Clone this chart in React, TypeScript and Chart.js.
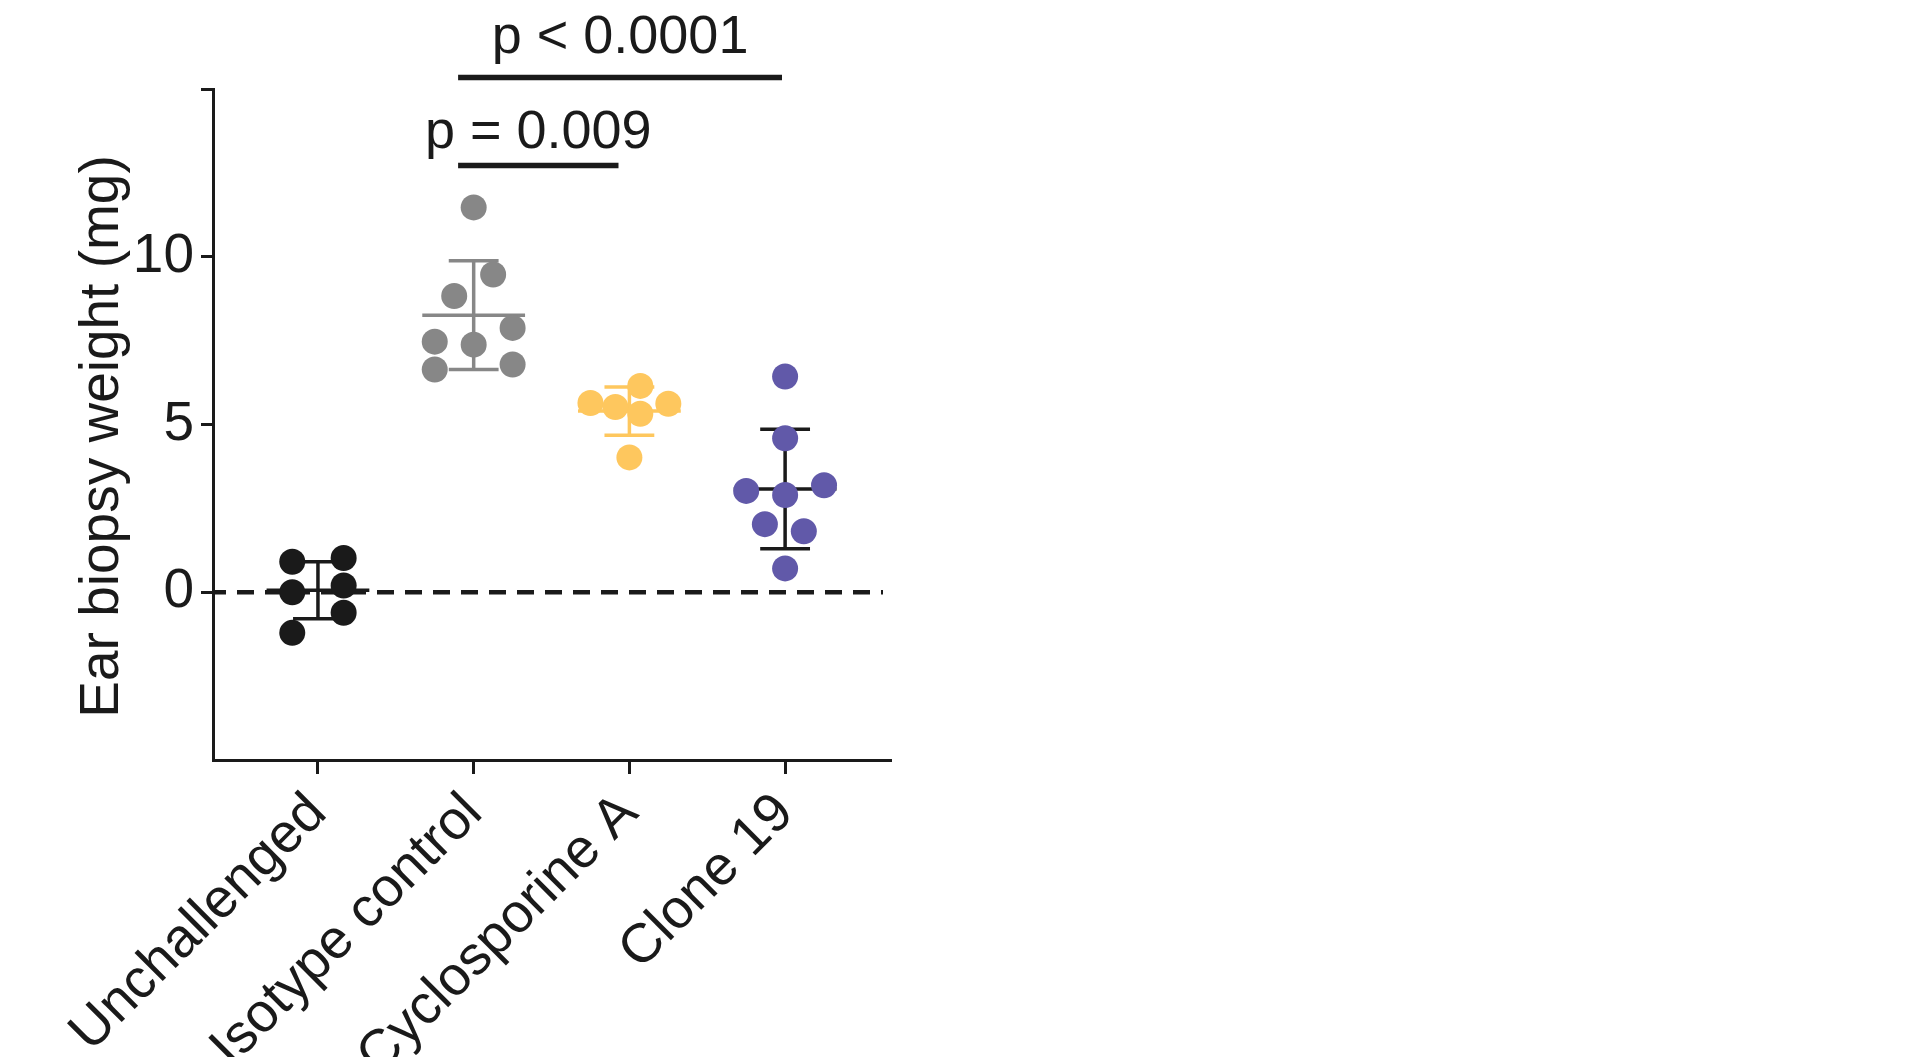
import { useEffect, useRef } from 'react';
import { Chart, registerables } from 'chart.js';

Chart.register(...registerables);

const categories = ['Unchallenged', 'Isotype control', 'Cyclosporine A', 'Clone 19'];

// ear biopsy weight per animal (mg) and horizontal spread inside each column (category units)
const unchallengedValues = [0.91, 1.02, 0.0, 0.2, -0.61, -1.21];
const unchallengedJitter = [-0.165, 0.165, -0.165, 0.165, 0.165, -0.165];
const isotypeValues = [11.47, 9.47, 8.83, 7.88, 7.47, 7.38, 6.64, 6.79];
const isotypeJitter = [0, 0.125, -0.125, 0.25, -0.25, 0, -0.25, 0.25];
const cyclosporineValues = [6.15, 5.64, 5.52, 5.62, 5.32, 4.02];
const cyclosporineJitter = [0.07, -0.25, -0.09, 0.25, 0.07, 0];
const clone19Values = [6.43, 4.59, 3.02, 3.19, 2.9, 2.03, 1.82, 0.71];
const clone19Jitter = [0, 0, -0.25, 0.25, 0, -0.13, 0.12, 0];

// mean and SD bars as drawn
const groupMeans = [0.06, 8.26, 5.4, 3.08];
const groupSDs = [0.85, 1.62, 0.72, 1.78];

const yTicks = [0, 5, 10, 15];
const yTitle = 'Ear biopsy weight (mg)';

// significance brackets
const sigLabels = ['p < 0.0001', 'p = 0.009'];
const sigFrom = [0.9, 0.9];
const sigTo = [2.98, 1.93];
const sigLevel = [15.34, 12.72];
const sigTextLevel = [16.06, 13.25];

const FONT = '"Liberation Sans", Arial, sans-serif';
const INK = '#1a1a1a';
const groupColors = ['#1a1a1a', '#878787', '#fec75e', '#6159a9'];
const barColors = ['#1a1a1a', '#878787', '#fec75e', '#1a1a1a'];

const toPoints = (values: number[], jitter: number[], group: number) =>
  values.map((v, i) => ({ x: group + jitter[i], y: v }));

const decorations = {
  id: 'decorations',
  beforeDatasetsDraw(chart: Chart) {
    const { ctx, chartArea } = chart;
    const x = chart.scales.x;
    const y = chart.scales.y;
    ctx.save();

    // dashed zero line
    const y0 = y.getPixelForValue(0);
    ctx.strokeStyle = INK;
    ctx.lineWidth = 4.5;
    ctx.setLineDash([17, 11]);
    ctx.lineDashOffset = 4;
    ctx.beginPath();
    ctx.moveTo(chartArea.left, y0);
    ctx.lineTo(chartArea.right - 8, y0);
    ctx.stroke();
    ctx.setLineDash([]);

    // mean with SD error bars
    ctx.lineWidth = 3.5;
    groupMeans.forEach((m, i) => {
      const cx = x.getPixelForValue(i);
      const half = x.getPixelForValue(i + 0.33) - cx;
      const cap = x.getPixelForValue(i + 0.16) - cx;
      const yt = y.getPixelForValue(m + groupSDs[i]);
      const yb = y.getPixelForValue(m - groupSDs[i]);
      const ym = y.getPixelForValue(m);
      ctx.strokeStyle = barColors[i];
      ctx.beginPath();
      ctx.moveTo(cx, yt);
      ctx.lineTo(cx, yb);
      ctx.moveTo(cx - cap, yt);
      ctx.lineTo(cx + cap, yt);
      ctx.moveTo(cx - cap, yb);
      ctx.lineTo(cx + cap, yb);
      ctx.moveTo(cx - half, ym);
      ctx.lineTo(cx + half, ym);
      ctx.stroke();
    });
    ctx.restore();
  },
  afterDraw(chart: Chart) {
    const { ctx, chartArea } = chart;
    const x = chart.scales.x;
    const y = chart.scales.y;
    ctx.save();
    ctx.strokeStyle = INK;
    ctx.fillStyle = INK;
    ctx.lineWidth = 5.5;
    ctx.font = `54px ${FONT}`;
    ctx.textAlign = 'center';
    ctx.textBaseline = 'alphabetic';
    sigLabels.forEach((label, i) => {
      const x1 = x.getPixelForValue(sigFrom[i]);
      const x2 = x.getPixelForValue(sigTo[i]);
      const yl = y.getPixelForValue(sigLevel[i]);
      ctx.beginPath();
      ctx.moveTo(x1, yl);
      ctx.lineTo(x2, yl);
      ctx.stroke();
      ctx.fillText(label, (x1 + x2) / 2, y.getPixelForValue(sigTextLevel[i]));
    });

    // y axis title, sitting a little below the middle of the axis as in the figure
    ctx.font = `55px ${FONT}`;
    ctx.textBaseline = 'middle';
    ctx.translate(chartArea.left - 110, (chartArea.top + chartArea.bottom) / 2 + 12);
    ctx.rotate(-Math.PI / 2);
    ctx.fillText(yTitle, 0, 0);
    ctx.restore();
  },
};

export default function App() {
  const canvasRef = useRef<HTMLCanvasElement | null>(null);
  const chartRef = useRef<Chart | null>(null);

  useEffect(() => {
    if (!canvasRef.current) return;
    document.body.style.margin = '0';
    if (chartRef.current) chartRef.current.destroy();

    const ctx = canvasRef.current.getContext('2d');
    if (!ctx) return;

    const groups = [
      toPoints(unchallengedValues, unchallengedJitter, 0),
      toPoints(isotypeValues, isotypeJitter, 1),
      toPoints(cyclosporineValues, cyclosporineJitter, 2),
      toPoints(clone19Values, clone19Jitter, 3),
    ];

    chartRef.current = new Chart(ctx, {
      type: 'scatter',
      data: {
        datasets: groups.map((pts, i) => ({
          label: categories[i],
          data: pts,
          backgroundColor: groupColors[i],
          borderWidth: 0,
          pointRadius: 13,
          pointHoverRadius: 13,
        })),
      },
      options: {
        animation: false,
        responsive: true,
        maintainAspectRatio: false,
        layout: { padding: { top: 89, right: 1029, left: 0, bottom: 0 } },
        plugins: {
          legend: { display: false },
          tooltip: { enabled: false },
        },
        scales: {
          x: {
            type: 'linear',
            min: -0.674,
            max: 3.68,
            afterBuildTicks: (scale) => {
              scale.ticks = categories.map((_, i) => ({ value: i }));
            },
            afterFit: (scale) => {
              scale.height = 297;
              scale.paddingLeft = 0;
              scale.paddingRight = 0;
            },
            ticks: {
              autoSkip: false,
              minRotation: 45,
              maxRotation: 45,
              padding: 7,
              color: INK,
              font: { family: FONT, size: 55 },
              callback: (v) => categories[Number(v)] ?? '',
            },
            grid: {
              drawOnChartArea: false,
              drawTicks: true,
              tickLength: 14,
              tickWidth: 3,
              tickColor: INK,
            },
            border: { display: true, color: INK, width: 3 },
          },
          y: {
            min: -5,
            max: 15,
            afterBuildTicks: (scale) => {
              scale.ticks = yTicks.map((v) => ({ value: v }));
            },
            afterFit: (scale) => {
              scale.width = 213;
              scale.paddingTop = 0;
              scale.paddingBottom = 0;
            },
            ticks: {
              padding: 7,
              color: INK,
              font: { family: FONT, size: 55 },
              callback: (v) => (Number(v) === 15 ? '' : String(v)),
            },
            grid: {
              drawOnChartArea: false,
              drawTicks: true,
              tickLength: 12,
              tickWidth: 3,
              tickColor: INK,
            },
            border: { display: true, color: INK, width: 3 },
          },
        },
      },
      plugins: [decorations],
    });

    return () => {
      if (chartRef.current) {
        chartRef.current.destroy();
        chartRef.current = null;
      }
    };
  }, []);

  return (
    <div style={{ position: 'relative', width: '1920px', height: '1057px', overflow: 'hidden' }}>
      <canvas ref={canvasRef} />
    </div>
  );
}
